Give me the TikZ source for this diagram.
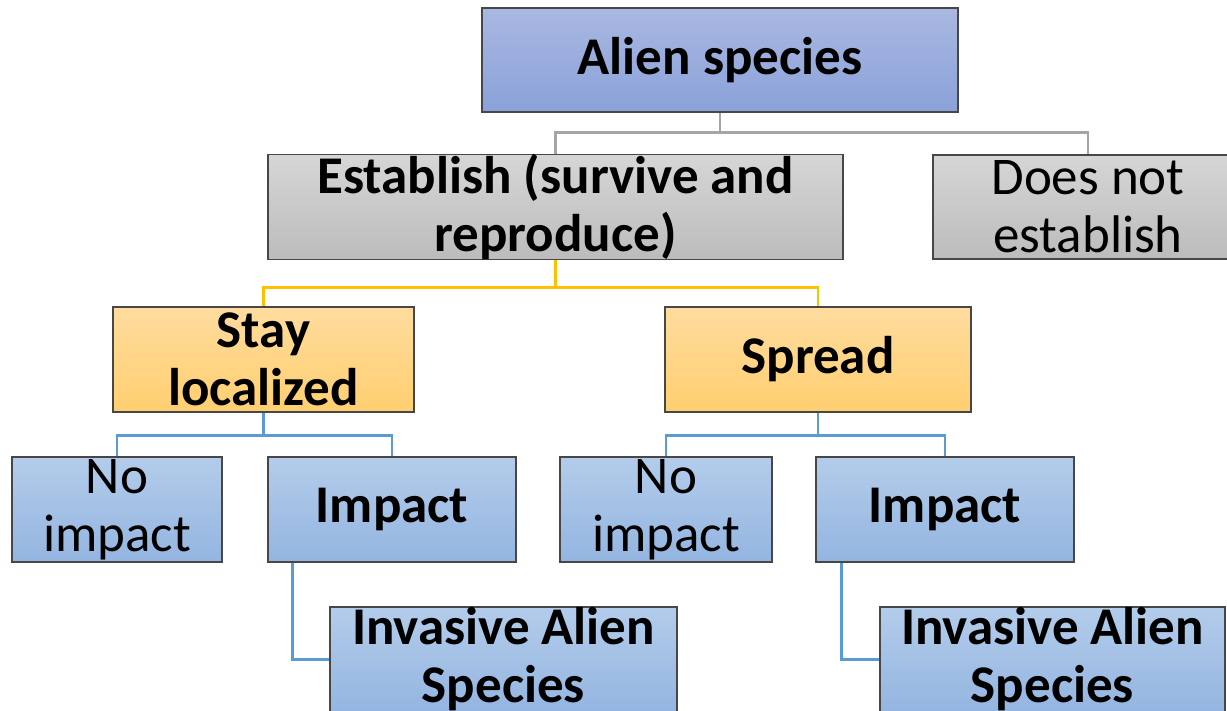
\documentclass[tikz,border=0pt]{standalone}
\usepackage{fontspec}
\setmainfont{Carlito}
\begin{document}
\begin{tikzpicture}[x=1pt,y=-1pt,
  box/.style={draw=black!72, line width=1.2pt, align=center, inner sep=0pt,
    font=\fontsize{53}{58}\selectfont},
  boldtext/.style={font=\fontsize{53}{58}\selectfont\bfseries},
  bluebox/.style={box, top color=blueT, bottom color=blueB},
  orangebox/.style={box, top color=orangeT, bottom color=orangeB, boldtext},
  graybox/.style={box, top color=grayT, bottom color=grayB},
  topbox/.style={box, top color=alienT, bottom color=alienB, boldtext},
  conn/.style={line width=2.6pt},
  gconn/.style={conn, draw=connGray},
  yconn/.style={conn, draw=connYellow},
  bconn/.style={conn, draw=connBlue}]
\definecolor{alienT}{HTML}{A9B8E1}
\definecolor{alienB}{HTML}{8AA1D9}
\definecolor{grayT}{HTML}{D6D6D6}
\definecolor{grayB}{HTML}{BCBCBC}
\definecolor{orangeT}{HTML}{FFDC9E}
\definecolor{orangeB}{HTML}{FFCF70}
\definecolor{blueT}{HTML}{B3CCEA}
\definecolor{blueB}{HTML}{94B5E1}
\definecolor{connGray}{HTML}{A5A5A5}
\definecolor{connYellow}{HTML}{FFC000}
\definecolor{connBlue}{HTML}{5B9BD5}
\useasboundingbox (0,0) rectangle (1227,711);
\clip (0,0) rectangle (1227,711);

\node[topbox, minimum width=476, minimum height=104] (alien) at (720,60) {Alien species};
\node[graybox, boldtext, minimum width=575, minimum height=104] (est) at (555.5,207) {Establish (survive and\\reproduce)};
\node[graybox, minimum width=310, minimum height=104] (dne) at (1088,207) {Does not\\establish};

\node[orangebox, minimum width=301, minimum height=105] (stay) at (263.5,359.5) {Stay\\localized};
\node[orangebox, minimum width=306, minimum height=105] (spread) at (818,359.5) {Spread};

\node[bluebox, minimum width=210, minimum height=105] (noL) at (117,509.5) {No\\impact};
\node[bluebox, boldtext, minimum width=248, minimum height=105] (impL) at (392,509.5) {Impact};
\node[bluebox, boldtext, minimum width=347, minimum height=105] (invL) at (503.5,659.5) {Invasive Alien\\Species};

\node[bluebox, minimum width=212, minimum height=105] (noR) at (666,509.5) {No\\impact};
\node[bluebox, boldtext, minimum width=258, minimum height=105] (impR) at (945,509.5) {Impact};
\node[bluebox, boldtext, minimum width=345, minimum height=105] (invR) at (1052.5,659.5) {Invasive Alien\\Species};

\draw[gconn] (alien.south) -- ++(0,20) -| (est.north);
\draw[gconn] (alien.south) -- ++(0,20) -| (dne.north);
\draw[yconn] (est.south) -- ++(0,27) -| (stay.north);
\draw[yconn] (est.south) -- ++(0,27) -| (spread.north);
\draw[bconn] (stay.south) -- ++(0,23) -| (noL.north);
\draw[bconn] (stay.south) -- ++(0,23) -| (impL.north);
\draw[bconn] (spread.south) -- ++(0,23) -| (noR.north);
\draw[bconn] (spread.south) -- ++(0,23) -| (impR.north);
\draw[bconn] ([xshift=25]impL.south west) |- (invL.west);
\draw[bconn] ([xshift=26]impR.south west) |- (invR.west);
\end{tikzpicture}
\end{document}
